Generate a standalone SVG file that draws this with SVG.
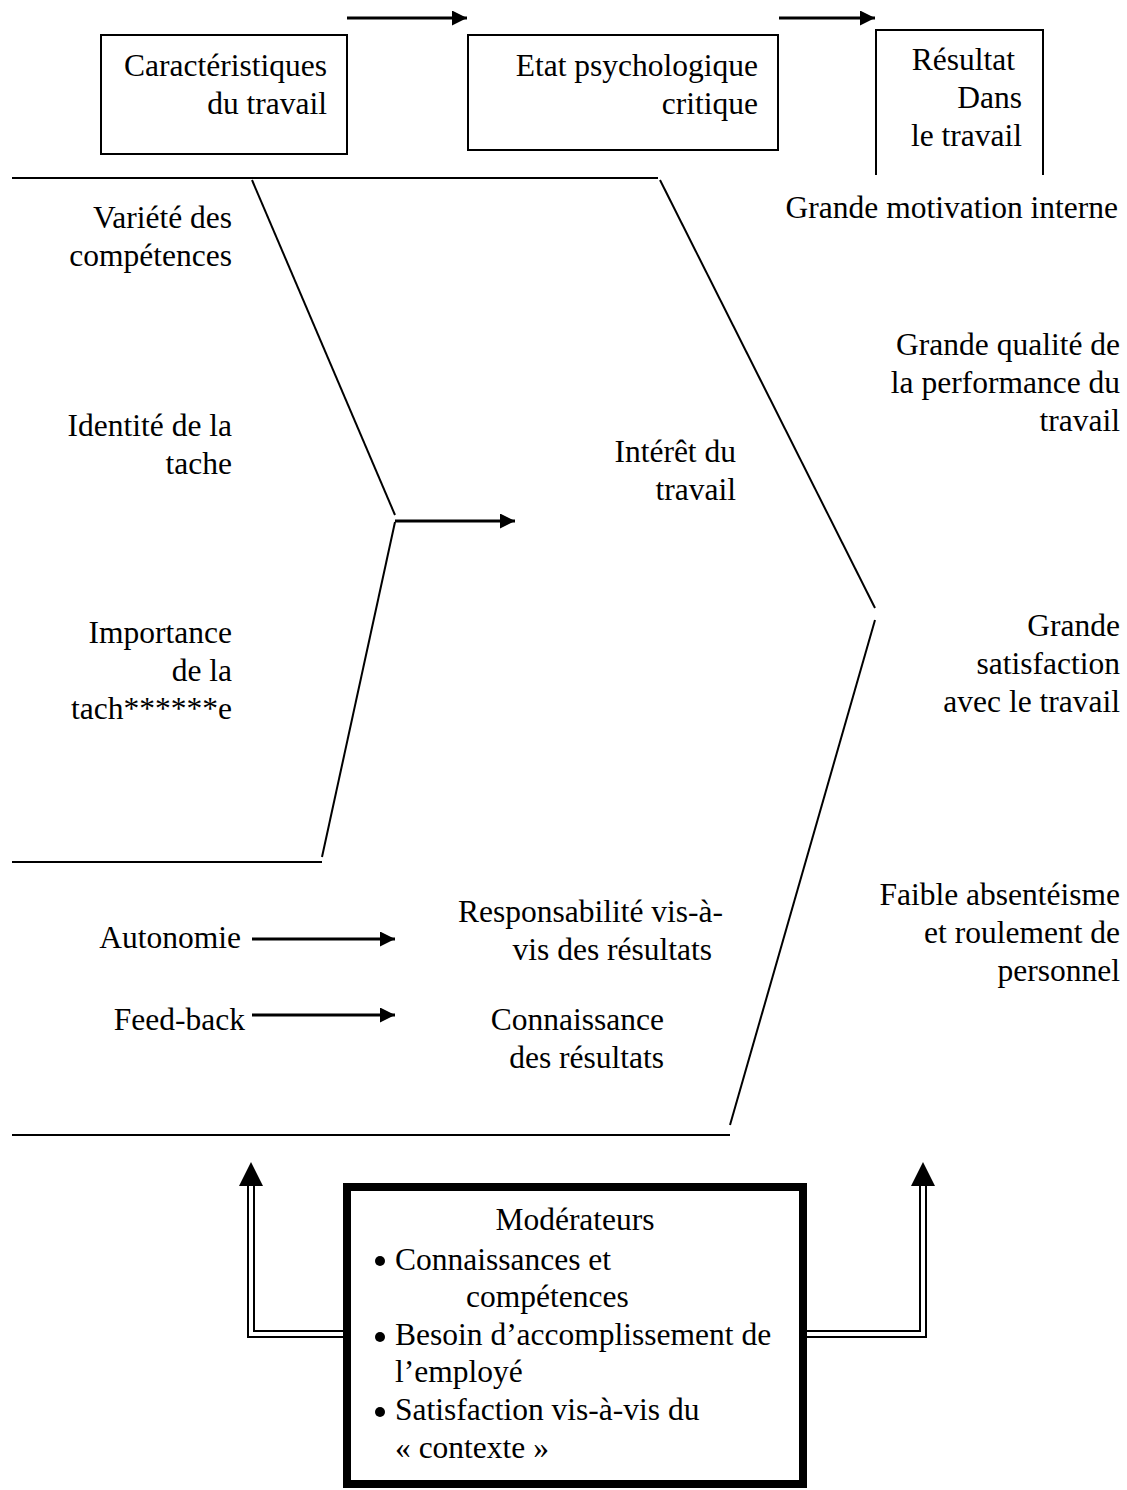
<svg xmlns="http://www.w3.org/2000/svg" width="1127" height="1490" viewBox="0 0 1127 1490">
<defs>
<style>
text{font-family:"Liberation Serif","Times New Roman",serif;font-size:31.5px;fill:#000}
.e{text-anchor:end}
.m{text-anchor:middle}
.ln{stroke:#000;stroke-width:2;fill:none}
.ar{stroke:#000;stroke-width:3;fill:none}
.dl{stroke:#000;stroke-width:2;fill:none}
</style>
<marker id="ah" viewBox="0 0 10 10" refX="10" refY="5" markerWidth="5.5" markerHeight="5" markerUnits="strokeWidth" orient="auto"><path d="M0,0 L10,5 L0,10 z" fill="#000"/></marker>
</defs>
<rect width="1127" height="1490" fill="#fff"/>
<g id="box-caracteristiques">
<rect x="101" y="35" width="246" height="119" class="ln"/>
<text x="327" y="76" class="e">Caractéristiques</text>
<text x="327" y="114" class="e">du travail</text>
</g>
<g id="box-etat">
<rect x="468" y="35" width="310" height="115" class="ln"/>
<text x="758" y="76" class="e">Etat psychologique</text>
<text x="758" y="114" class="e">critique</text>
</g>
<g id="box-resultat">
<path d="M876,175 V30 H1043 V175" class="ln"/>
<text x="1015" y="70" class="e">Résultat</text>
<text x="1022" y="108" class="e">Dans</text>
<text x="1022" y="146" class="e">le travail</text>
</g>
<g id="connectors">
<line x1="347" y1="18" x2="467" y2="18" class="ar" marker-end="url(#ah)"/>
<line x1="779" y1="18" x2="875" y2="18" class="ar" marker-end="url(#ah)"/>
<line x1="12" y1="178" x2="658" y2="178" class="ln"/>
<line x1="12" y1="862" x2="322" y2="862" class="ln"/>
<line x1="12" y1="1135" x2="730" y2="1135" class="ln"/>
<line x1="252" y1="180" x2="395" y2="515" class="ln"/>
<line x1="395" y1="522" x2="322" y2="857" class="ln"/>
<line x1="395" y1="521" x2="515" y2="521" class="ar" marker-end="url(#ah)"/>
<line x1="660" y1="180" x2="875" y2="608" class="ln"/>
<line x1="875" y1="620" x2="730" y2="1125" class="ln"/>
<line x1="252" y1="939" x2="395" y2="939" class="ar" marker-end="url(#ah)"/>
<line x1="252" y1="1015" x2="395" y2="1015" class="ar" marker-end="url(#ah)"/>
<path d="M248,1183 V1337 H343" class="dl"/>
<path d="M254,1183 V1331 H343" class="dl"/>
<path d="M239,1186 L251,1162 L263,1186 z" fill="#000"/>
<path d="M926,1183 V1337 H807" class="dl"/>
<path d="M920,1183 V1331 H807" class="dl"/>
<path d="M911,1186 L923,1162 L935,1186 z" fill="#000"/>
</g>
<g id="results">
<text x="1118" y="218" class="e">Grande motivation interne</text>
<text x="1120" y="355" class="e">Grande qualité de</text>
<text x="1120" y="393" class="e">la performance du</text>
<text x="1120" y="431" class="e">travail</text>
<text x="1120" y="636" class="e">Grande</text>
<text x="1120" y="674" class="e">satisfaction</text>
<text x="1120" y="712" class="e">avec le travail</text>
<text x="1120" y="905" class="e">Faible absentéisme</text>
<text x="1120" y="943" class="e">et roulement de</text>
<text x="1120" y="981" class="e">personnel</text>
</g>
<g id="characteristics">
<text x="232" y="228" class="e">Variété des</text>
<text x="232" y="266" class="e">compétences</text>
<text x="232" y="436" class="e">Identité de la</text>
<text x="232" y="474" class="e">tache</text>
<text x="232" y="643" class="e">Importance</text>
<text x="232" y="681" class="e">de la</text>
<text x="232" y="719" class="e">tach******e</text>
<text x="241" y="948" class="e">Autonomie</text>
<text x="245" y="1030" class="e">Feed-back</text>
</g>
<g id="states">
<text x="736" y="462" class="e">Intérêt du</text>
<text x="736" y="500" class="e">travail</text>
<text x="723" y="922" class="e">Responsabilité vis-à-</text>
<text x="712" y="960" class="e">vis des résultats</text>
<text x="664" y="1030" class="e">Connaissance</text>
<text x="664" y="1068" class="e">des résultats</text>
</g>
<g id="moderateurs">
<rect x="347" y="1187" width="456" height="297" fill="#fff" stroke="#000" stroke-width="8"/>
<text x="575" y="1230" class="m">Modérateurs</text>
<circle cx="380" cy="1261" r="5"/>
<text x="395" y="1270">Connaissances et</text>
<text x="466" y="1307">compétences</text>
<circle cx="380" cy="1337" r="5"/>
<text x="395" y="1345">Besoin d’accomplissement de</text>
<text x="395" y="1382">l’employé</text>
<circle cx="380" cy="1412" r="5"/>
<text x="395" y="1420">Satisfaction vis-à-vis du</text>
<text x="395" y="1458">« contexte »</text>
</g>
</svg>
